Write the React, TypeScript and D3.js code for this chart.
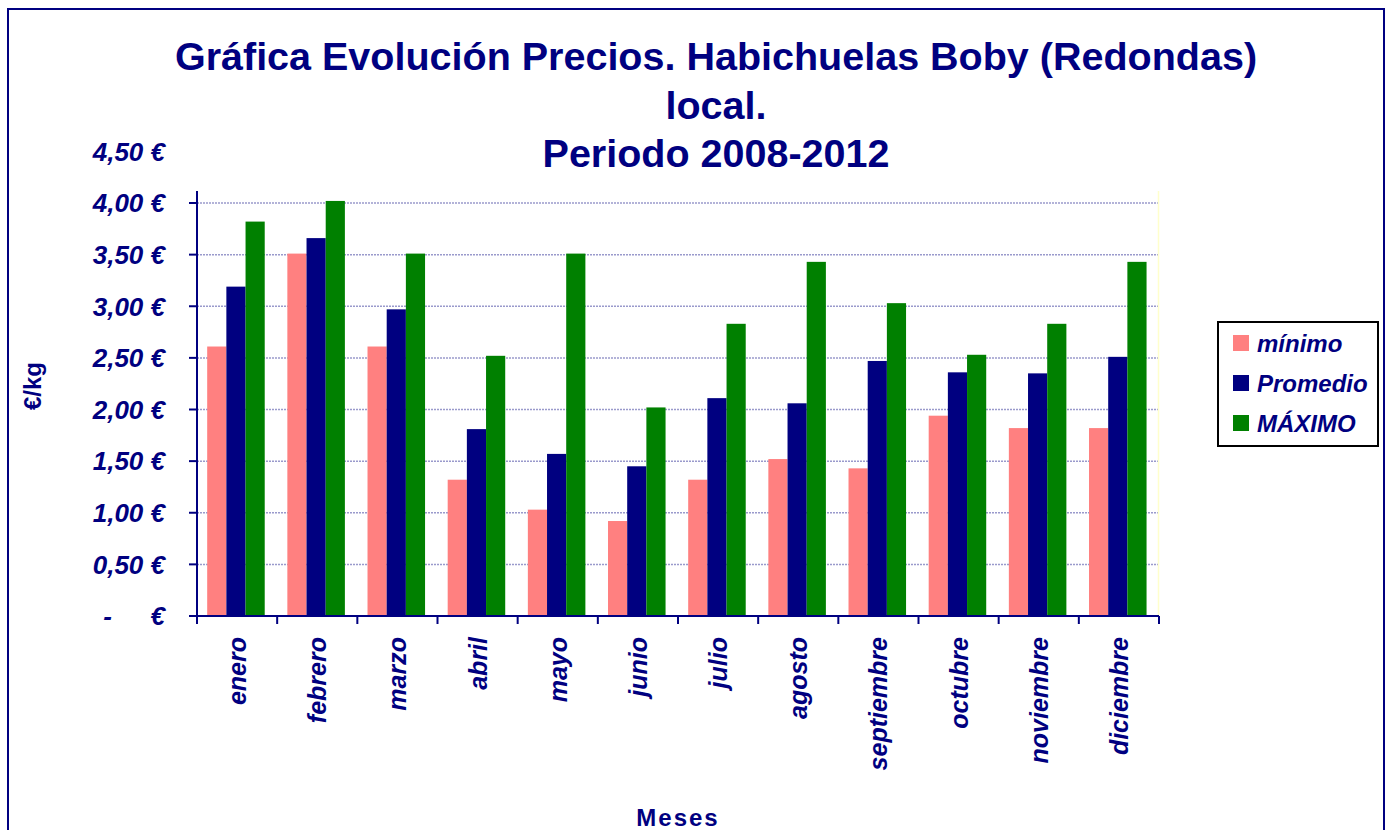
import React from "react";
import * as d3 from "d3";

const months = ["enero","febrero","marzo","abril","mayo","junio","julio","agosto","septiembre","octubre","noviembre","diciembre"];
const seriesNames = ["mínimo","Promedio","MÁXIMO"];
const minimo = [2.61,3.51,2.61,1.32,1.03,0.92,1.32,1.52,1.43,1.94,1.82,1.82];
const promedio = [3.19,3.66,2.97,1.81,1.57,1.45,2.11,2.06,2.47,2.36,2.35,2.51];
const maximo = [3.82,4.02,3.51,2.52,3.51,2.02,2.83,3.43,3.03,2.53,2.83,3.43];
const yTicks = [0,0.5,1,1.5,2,2.5,3,3.5,4,4.5];
const titleLines = ["Gráfica Evolución Precios. Habichuelas Boby (Redondas)","local.","Periodo 2008-2012"];

const colors = ["#FF8080","#000080","#008000"];
const NAVY = "#000080";
const FONT = "'Liberation Sans', Arial, sans-serif";

export default function App() {
  const W = 1392, H = 830;
  const left = 197, right = 1159, bottom = 616, plotTop = 191;
  const x0 = d3.scaleBand<string>().domain(months).range([left, right]).padding(0);
  const x1 = d3.scaleBand<string>().domain(seriesNames).range([0, x0.step()]).paddingInner(0).paddingOuter(0.59).align(0.45);
  const y = d3.scaleLinear().domain([0, 4.5]).range([bottom, bottom - 4.5 * 103.25]);
  const data = [minimo, promedio, maximo];
  const fmt = (v: number) => v.toFixed(2).replace(".", ",") + " €";

  return (
    <svg width={W} height={H} style={{ position: "absolute", left: 0, top: 0 }} fontFamily={FONT}>
      <rect x={0} y={0} width={W} height={H} fill="#fff" />
      <rect x={8} y={9} width={1376} height={840} fill="none" stroke={NAVY} strokeWidth={2} />
      {titleLines.map((t, i) => (
        <text key={i} x={716} y={70 + i * 48.5} textAnchor="middle" fontSize={39.5} fontWeight="bold" fill={NAVY}>{t}</text>
      ))}
      {/* gridlines */}
      {yTicks.filter(v => v > 0 && y(v) >= plotTop).map(v => (
        <line key={v} x1={left} x2={right} y1={y(v)} y2={y(v)} stroke="#9a9acc" strokeWidth={1.5} strokeDasharray="2 1" />
      ))}
      <line x1={right - 0.5} x2={right - 0.5} y1={plotTop} y2={bottom} stroke="#ffffcc" strokeWidth={1.5} />
      {/* bars */}
      {data.map((vals, s) => vals.map((v, i) => (
        <rect key={s + "-" + i}
          x={(x0(months[i]) as number) + (x1(seriesNames[s]) as number)}
          y={y(v)} width={x1.bandwidth()} height={bottom - y(v)}
          fill={colors[s]} />
      )))}
      {/* y axis */}
      <line x1={left} x2={left} y1={plotTop} y2={bottom} stroke={NAVY} strokeWidth={2} />
      {yTicks.map(v => (
        <g key={v}>
          {y(v) >= plotTop && <line x1={left - 8} x2={left} y1={y(v)} y2={y(v)} stroke={NAVY} strokeWidth={2} />}
          {v === 0 ? (
            <>
              <text x={112} y={y(v)} dy="0.36em" textAnchor="end" fontSize={26} fontWeight="bold" fontStyle="italic" fill={NAVY}>-</text>
              <text x={165} y={y(v)} dy="0.36em" textAnchor="end" fontSize={26} fontWeight="bold" fontStyle="italic" fill={NAVY}>€</text>
            </>
          ) : (
            <text x={165} y={y(v)} dy="0.36em" textAnchor="end" fontSize={26} fontWeight="bold" fontStyle="italic" fill={NAVY}>{fmt(v)}</text>
          )}
        </g>
      ))}
      {/* x axis */}
      <line x1={left} x2={right} y1={bottom} y2={bottom} stroke={NAVY} strokeWidth={2} />
      {months.concat(["_end"]).map((m, i) => {
        const xx = left + i * x0.step();
        return <line key={m} x1={xx} x2={xx} y1={bottom} y2={bottom + 8} stroke={NAVY} strokeWidth={2} />;
      })}
      {months.map(m => {
        const cx = (x0(m) as number) + x0.bandwidth() / 2;
        return (
          <text key={m} transform={`translate(${cx},637) rotate(-90)`} dy="0.36em" textAnchor="end"
            fontSize={25} fontWeight="bold" fontStyle="italic" fill={NAVY}>{m}</text>
        );
      })}
      <text transform="translate(32,386) rotate(-90)" dy="0.36em" textAnchor="middle" fontSize={24} fontWeight="bold" fill={NAVY}>€/kg</text>
      <text x={678} y={826} textAnchor="middle" fontSize={24} fontWeight="bold" letterSpacing={2} fill={NAVY}>Meses</text>
      {/* legend */}
      <rect x={1218} y={322} width={160} height={124} fill="#fff" stroke="#000" strokeWidth={2} />
      {seriesNames.map((n, i) => {
        const cy = 343 + i * 40;
        return (
          <g key={n}>
            <rect x={1233} y={cy - 8} width={16} height={16} fill={colors[i]} />
            <text x={1257} y={cy} dy="0.36em" fontSize={24} fontWeight="bold" fontStyle="italic" fill={NAVY}>{n}</text>
          </g>
        );
      })}
    </svg>
  );
}
